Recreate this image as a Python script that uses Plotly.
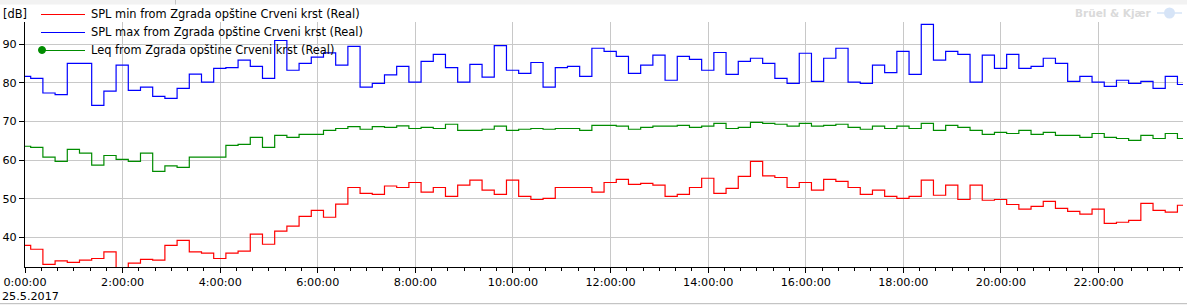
import pandas as pd
import plotly.graph_objects as go

# ---- data (15-minute intervals, interval start times) ----
interval_start = "2017-05-24 23:52"
n_intervals = 96

spl_max = [81.7, 81.2, 77.4, 77.0, 85.1, 85.1, 74.2, 77.9, 84.6, 78.1, 78.9, 76.5, 76.0, 78.6, 82.3, 80.2, 83.8,
           84.0, 85.9, 84.3, 81.2, 91.0, 83.3, 85.1, 86.7, 87.8, 84.6, 89.5, 78.9, 79.9, 82.1, 84.3, 80.2,
           85.6, 87.4, 84.0, 80.2, 84.8, 81.5, 89.7, 83.3, 82.5, 85.3, 78.9, 84.0, 84.3, 81.7, 89.0, 88.2,
           86.9, 82.5, 84.6, 87.2, 80.7, 86.9, 86.1, 83.3, 87.9, 82.2, 85.6, 86.4, 85.1, 81.2, 79.9, 87.7,
           80.4, 86.4, 89.0, 80.2, 79.9, 84.6, 82.7, 88.2, 82.2, 95.2, 85.9, 88.2, 87.4, 80.2, 87.2, 83.8,
           87.4, 83.8, 84.3, 86.4, 85.1, 80.4, 81.7, 80.2, 79.1, 80.7, 79.9, 80.4, 78.6, 81.7, 79.6]

leq = [63.6, 63.3, 60.8, 59.7, 62.8, 61.8, 58.7, 61.2, 60.2, 59.7, 61.8, 57.1, 58.5, 58.1, 60.8, 60.8, 60.8,
       63.8, 64.1, 65.9, 63.3, 66.4, 65.9, 66.7, 66.7, 67.7, 68.2, 68.7, 68.0, 68.7, 68.5, 68.9, 68.2,
       68.5, 68.2, 69.3, 67.7, 67.7, 68.0, 68.8, 67.7, 68.0, 68.2, 68.0, 68.2, 68.2, 67.7, 69.0, 69.0,
       68.8, 68.0, 68.5, 68.8, 68.8, 69.0, 68.5, 68.8, 69.5, 68.2, 68.5, 69.8, 69.5, 69.3, 68.8, 69.5,
       68.8, 69.0, 69.3, 68.5, 68.0, 68.8, 68.2, 68.8, 68.2, 69.5, 67.7, 69.0, 68.5, 67.7, 66.7, 67.2,
       66.9, 67.7, 66.7, 67.2, 66.4, 66.4, 65.9, 66.9, 65.9, 65.6, 65.1, 66.4, 65.6, 66.9, 65.6]

spl_min = [37.9, 36.9, 33.0, 33.9, 33.5, 34.1, 34.5, 36.2, 31.0, 33.3, 34.3, 34.1, 37.9, 39.2, 36.2, 35.9, 34.5,
           35.9, 36.4, 40.8, 38.2, 41.6, 42.9, 45.4, 47.0, 45.2, 48.6, 52.9, 51.4, 51.1, 53.3, 52.9, 54.2,
           51.7, 52.9, 50.6, 53.5, 54.8, 52.2, 51.1, 54.8, 50.6, 49.8, 50.1, 52.9, 52.9, 52.9, 51.7, 54.2,
           55.0, 53.7, 54.0, 53.5, 50.6, 51.1, 52.9, 55.3, 51.4, 52.7, 55.8, 59.7, 55.9, 55.5, 52.9, 54.2,
           52.2, 55.0, 54.5, 52.9, 51.1, 52.2, 50.6, 50.1, 50.6, 54.8, 50.9, 53.5, 49.8, 53.5, 49.6, 49.8,
           48.5, 47.3, 48.0, 49.3, 47.5, 46.7, 46.0, 47.3, 43.6, 43.9, 44.4, 48.8, 47.0, 46.5, 48.3]

series_names = ["SPL min from Zgrada opštine Crveni krst (Real)",
                "SPL max from Zgrada opštine Crveni krst (Real)",
                "Leq from Zgrada opštine Crveni krst (Real)"]
series_colors = ["#ff0000", "#0000ff", "#008c00"]
y_ticks = [40, 50, 60, 70, 80, 90]
date_label = "25.5.2017"
unit_label = "[dB]"
watermark = "Brüel & Kjær"

# ---- figure ----
W, H = 1187, 305
ML, MR, MT, MB = 25, 4, 22, 38
PW, PH = W - ML - MR, H - MT - MB
FONT = "DejaVu Sans"

def px(x):
    return (x - ML) / PW

def py(y):
    return (H - MB - y) / PH

times = pd.date_range(interval_start, periods=n_intervals + 1, freq="15min")

fig = go.Figure()
for vals, name, col in [(spl_max, series_names[1], series_colors[1]),
                        (leq, series_names[2], series_colors[2]),
                        (spl_min, series_names[0], series_colors[0])]:
    fig.add_trace(go.Scatter(x=times, y=vals + [vals[-1]], mode="lines", name=name,
                             line=dict(color=col, width=1.2, shape="hv"),
                             showlegend=False, hoverinfo="skip"))

shapes = []
annotations = []

# top band and bottom border
shapes.append(dict(type="rect", xref="paper", yref="paper", x0=px(0), x1=px(W), y0=py(0), y1=py(4.5),
                   fillcolor="#f2f2f2", line=dict(width=0), layer="below"))
shapes.append(dict(type="line", xref="paper", yref="paper", x0=px(175.5), x1=px(175.5), y0=py(0), y1=py(4.5),
                   line=dict(color="#c4c4c4", width=1)))
shapes.append(dict(type="line", xref="paper", yref="paper", x0=px(0), x1=px(W), y0=py(303.5), y1=py(303.5),
                   line=dict(color="#c4c4c4", width=1)))
shapes.append(dict(type="rect", xref="paper", yref="paper", x0=px(0), x1=px(W), y0=py(304), y1=py(305),
                   fillcolor="#f2f2f2", line=dict(width=0)))

# legend (drawn manually)
legend_y = [14, 32, 50]
for i, (name, col) in enumerate(zip(series_names, series_colors)):
    shapes.append(dict(type="line", xref="paper", yref="paper", x0=px(41), x1=px(85),
                       y0=py(legend_y[i] + 0.5), y1=py(legend_y[i] + 0.5), line=dict(color=col, width=1.2)))
    annotations.append(dict(xref="paper", yref="paper", x=px(89), y=py(legend_y[i]), text=name,
                            showarrow=False, xanchor="left", yanchor="middle",
                            font=dict(family=FONT, size=11.4, color="#000000")))
# Leq marker in legend
shapes.append(dict(type="circle", xref="paper", yref="paper", x0=px(38.5), x1=px(45.5),
                   y0=py(46.5), y1=py(53.5), fillcolor=series_colors[2], line=dict(color=series_colors[2], width=1)))

annotations.append(dict(xref="paper", yref="paper", x=px(1), y=py(14), text=unit_label, showarrow=False,
                        xanchor="left", yanchor="middle", font=dict(family=FONT, size=11.4, color="#000000")))
annotations.append(dict(xref="paper", yref="paper", x=px(0), y=py(296), text=date_label, showarrow=False,
                        xanchor="left", yanchor="middle", font=dict(family=FONT, size=11.2, color="#000000")))
annotations.append(dict(xref="paper", yref="paper", x=px(1154), y=py(13), text="<b>" + watermark + "</b>",
                        showarrow=False, xanchor="right", yanchor="middle",
                        font=dict(family=FONT, size=10.5, color="#dadada")))
# watermark logo
shapes.append(dict(type="circle", xref="paper", yref="paper", x0=px(1164), x1=px(1175),
                   y0=py(7.5), y1=py(18.5), fillcolor="#d6e4f7", line=dict(width=0)))
shapes.append(dict(type="line", xref="paper", yref="paper", x0=px(1157), x1=px(1182),
                   y0=py(13), y1=py(13), line=dict(color="#d6e4f7", width=1.5)))

fig.update_layout(
    width=W, height=H,
    margin=dict(l=ML, r=MR, t=MT, b=MB),
    paper_bgcolor="white", plot_bgcolor="white",
    font=dict(family=FONT, size=11.2, color="#000000"),
    shapes=shapes, annotations=annotations,
    showlegend=False,
)
fig.update_xaxes(
    type="date",
    range=["2017-05-25 00:00:00", "2017-05-25 23:43:50"],
    tick0="2017-05-25 00:00:00", dtick=2 * 3600 * 1000,
    tickformat="%-H:%M:%S",
    ticks="outside", ticklen=5, tickcolor="#000000",
    showline=True, linecolor="#000000", linewidth=1,
    showgrid=True, gridcolor="#c8c8c8", gridwidth=1,
    minor=dict(tick0="2017-05-25 00:00:00", dtick=20 * 60 * 1000, ticks="outside", ticklen=3,
               tickcolor="#000000", showgrid=False),
    tickfont=dict(family=FONT, size=11.2, color="#000000"),
    zeroline=False,
)
fig.update_yaxes(
    range=[32.3, 95.8],
    tickvals=y_ticks,
    ticks="outside", ticklen=5, tickcolor="#000000",
    showline=True, linecolor="#000000", linewidth=1,
    showgrid=True, gridcolor="#c8c8c8", gridwidth=1,
    tickfont=dict(family=FONT, size=11.2, color="#000000"),
    zeroline=False,
)

fig.write_html("out.html")
